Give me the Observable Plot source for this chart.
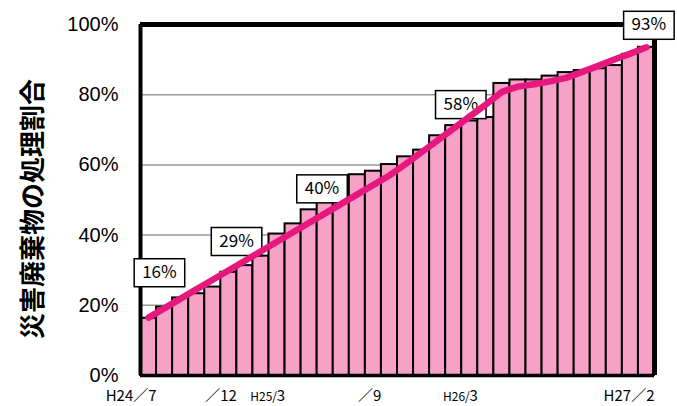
<!DOCTYPE html>
<html><head><meta charset="utf-8">
<script src="https://cdn.jsdelivr.net/npm/d3@7"></script>
<script src="https://cdn.jsdelivr.net/npm/@observablehq/plot@0.6"></script>
<style>
html,body{margin:0;padding:0;background:#fff;}
</style></head><body><div id="chart"></div>
<script>
const months = ["H24/7","H24/8","H24/9","H24/10","H24/11","H24/12",
  "H25/1","H25/2","H25/3","H25/4","H25/5","H25/6","H25/7","H25/8","H25/9","H25/10","H25/11","H25/12",
  "H26/1","H26/2","H26/3","H26/4","H26/5","H26/6","H26/7","H26/8","H26/9","H26/10","H26/11","H26/12",
  "H27/1","H27/2"];
const actual = [16.3,19.5,22.1,23.3,25.2,29.4,31.3,34.0,40.3,43.2,47.2,50.0,53.0,57.2,58.2,60.1,62.3,64.2,
  68.3,71.2,72.5,73.5,83.2,84.2,84.2,85.3,86.3,86.9,87.4,88.3,91.5,93.5];
const trend = [16.5,19.2,21.9,24.6,27.3,30.0,32.7,35.4,38.1,40.8,43.5,46.2,48.9,51.6,54.3,57.0,
  60.2,63.6,67.0,70.4,73.8,77.2,80.8,82.3,83.0,83.8,84.8,86.5,88.2,90.0,91.7,93.5];
const yTicks = [0,20,40,60,80,100];
const tickMonths = ["H24/7","H24/12","H25/3","H25/9","H26/3","H27/2"];
const tickPrefix = ["","","H25/","","H26/",""];
const tickSuffix = ["H24／7","／12","3","／9","3","H27／2"];
const annoText = ["16%","29%","40%","58%","93%"];
const annoMonth = [1.18,5.98,11.3,19.94,31.65];
const annoValue = [29.4,38.3,53.3,77.3,99.9];
const title = "災害廃棄物の処理割合";

const rows = months.map((m,i)=>({m, i, actual: actual[i], trend: trend[i]}));
const ticks = tickMonths.map((m,k)=>({i: months.indexOf(m), prefix: tickPrefix[k], suffix: tickSuffix[k]}));
const annos = annoText.map((t,k)=>({t, x: annoMonth[k], y: annoValue[k]}));
const jp = "'Noto Sans CJK JP', sans-serif";

const plot = Plot.plot({
  width: 677, height: 406,
  marginLeft: 140, marginRight: 23, marginTop: 24, marginBottom: 31,
  x: {domain: [0, months.length], axis: null},
  y: {domain: [0, 100], axis: null},
  style: {background: "white", overflow: "visible"},
  marks: [
    Plot.ruleY(yTicks.filter(t=>t>0 && t<100), {stroke: "#9a9a9a", strokeWidth: 1.5}),
    Plot.rect(rows, {x1: "i", x2: d=>d.i+1, y1: 0, y2: "actual", fill: "#F7A1C9", stroke: "black", strokeWidth: 2}),
    Plot.ruleX([0], {stroke: "black", strokeWidth: 4}),
    Plot.ruleY([0], {stroke: "black", strokeWidth: 3.5}),
    Plot.ruleY([100], {stroke: "black", strokeWidth: 5}),
    Plot.ruleX([months.length], {stroke: "black", strokeWidth: 5}),
    Plot.text(annos, {x: "x", y: "y", text: "t", fontSize: 17, fontFamily: jp, fill: "black"}),
    Plot.line(rows, {x: d=>d.i+0.5, y: "trend", stroke: "#E6177D", strokeWidth: 6.5, strokeLinejoin: "round"}),
    Plot.text(yTicks, {x: 0, y: d=>d, text: d=>d+"%", textAnchor: "end", dx: -22, fontSize: 20, fontFamily: "'Liberation Sans', Arial, sans-serif", fill: "black"}),
    Plot.text(ticks, {x: d=>d.i+1, y: 0, text: "suffix", textAnchor: "end", dy: 21, fontSize: 15, fontFamily: jp, fill: "black"}),
    Plot.text(ticks.filter(d=>d.prefix), {x: d=>d.i+1, y: 0, text: "prefix", textAnchor: "end", dx: -8, dy: 22, fontSize: 12, fontFamily: jp, fill: "black"}),
    Plot.text([title], {frameAnchor: "left", rotate: -90, textAnchor: "middle", dx: -107, dy: 9, fontSize: 26, fontWeight: "bold", fontFamily: jp, fill: "black"})
  ]
});
document.getElementById("chart").append(plot);
const annoSet = new Set(annoText);
plot.querySelectorAll("g[font-size='17'] text").forEach(t => {
  if (!annoSet.has(t.textContent)) return;
  const b = t.getBBox();
  const r = document.createElementNS("http://www.w3.org/2000/svg", "rect");
  r.setAttribute("x", b.x - 8);
  r.setAttribute("y", b.y + 1);
  r.setAttribute("width", b.width + 16);
  r.setAttribute("height", b.height + 3);
  r.setAttribute("fill", "white");
  r.setAttribute("stroke", "black");
  r.setAttribute("stroke-width", 1.5);
  const tr = t.getAttribute("transform");
  if (tr) r.setAttribute("transform", tr);
  t.parentNode.insertBefore(r, t);
});
</script></body></html>
